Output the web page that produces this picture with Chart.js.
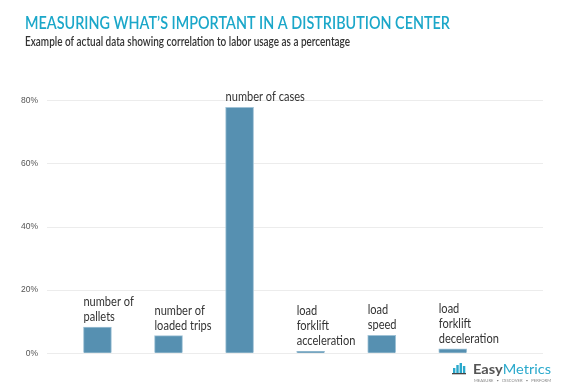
<!DOCTYPE html>
<html><head><meta charset="utf-8">
<script src="https://cdn.jsdelivr.net/npm/chart.js@4.4.1/dist/chart.umd.min.js"></script>
<style>html,body{margin:0;padding:0;background:#fff}#wrap{width:562px;height:389px}</style>
</head><body><div id="wrap"><canvas id="c" width="562" height="389"></canvas></div>
<script>
const categories = [
  ["number of", "pallets"],
  ["number of", "loaded trips"],
  ["number of cases"],
  ["load", "forklift", "acceleration"],
  ["load", "speed"],
  ["load", "forklift", "deceleration"]
];
const positions = [1, 2, 3, 4, 5, 6];
const values = [8.3, 5.6, 77.9, 0.6, 5.7, 1.4];
const yTicks = [0, 20, 40, 60, 80];
const titleText = "MEASURING WHAT\u2019S IMPORTANT IN A DISTRIBUTION CENTER";
const subtitleText = "Example of actual data showing correlation to labor usage as a percentage";

const FONT = "Lato, 'Open Sans', sans-serif";

function fitText(ctx, text, x, y, targetW) {
  const w = ctx.measureText(text).width;
  const s = targetW / w;
  ctx.save();
  ctx.translate(x, y);
  ctx.scale(s, 1);
  ctx.fillText(text, 0, 0);
  ctx.restore();
}
function scaledText(ctx, text, x, y, s) {
  ctx.save();
  ctx.translate(x, y);
  ctx.scale(s, 1);
  ctx.fillText(text, 0, 0);
  ctx.restore();
}

const decor = {
  id: 'decor',
  afterDatasetsDraw(chart) {
    const ctx = chart.ctx;
    const meta = chart.getDatasetMeta(0);
    ctx.save();
    ctx.fillStyle = '#333';
    ctx.font = "13px " + FONT;
    ctx.textAlign = 'left';
    ctx.textBaseline = 'alphabetic';
    meta.data.forEach((bar, i) => {
      const lines = categories[i];
      const left = bar.x - bar.width / 2;
      const base = bar.y - 6;
      for (let k = 0; k < lines.length; k++) {
        scaledText(ctx, lines[k], left, base - (lines.length - 1 - k) * 15, 0.85);
      }
    });
    ctx.restore();
  },
  afterDraw(chart) {
    const ctx = chart.ctx;
    ctx.save();
    ctx.textAlign = 'left';
    ctx.textBaseline = 'alphabetic';
    ctx.fillStyle = '#1ba7c9';
    ctx.font = "600 17.5px " + FONT;
    fitText(ctx, titleText, 25, 29, 425);
    ctx.fillStyle = '#333';
    ctx.font = "600 12.5px " + FONT;
    fitText(ctx, subtitleText, 25, 46, 325);
    // logo
    ctx.fillStyle = '#2aa9cc';
    const bx = 453, by = 373;
    [[0,5],[3.3,8],[6.6,10],[9.9,7]].forEach(([dx,h]) => ctx.fillRect(bx + dx, by - h, 2.4, h));
    ctx.fillStyle = '#444';
    ctx.fillRect(bx - 1, by, 14, 1.3);
    ctx.font = "700 14px " + FONT;
    const we = ctx.measureText("Easy").width;
    ctx.font = "400 14px " + FONT;
    const wm = ctx.measureText("Metrics").width;
    const s = 78 / (we + wm);
    ctx.font = "700 14px " + FONT;
    ctx.fillStyle = '#555';
    scaledText(ctx, "Easy", 473, 373.5, s);
    ctx.font = "400 14px " + FONT;
    ctx.fillStyle = '#2aa9cc';
    scaledText(ctx, "Metrics", 473 + we * s, 373.5, s);
    ctx.font = "4px " + FONT;
    ctx.fillStyle = '#888';
    fitText(ctx, "MEASURE   \u2022   DISCOVER   \u2022   PERFORM", 474, 381.5, 77);
    ctx.restore();
  }
};

new Chart(document.getElementById('c'), {
  type: 'bar',
  data: {
    datasets: [{
      data: positions.map((x, i) => ({ x: x, y: values[i] })),
      backgroundColor: '#5690b1',
      borderColor: '#9fc2d6',
      borderWidth: 1,
      barThickness: 28
    }]
  },
  options: {
    responsive: false,
    animation: false,
    layout: { padding: { top: 100.7, right: 19, bottom: 35.7, left: 0 } },
    plugins: { legend: { display: false }, tooltip: { enabled: false } },
    scales: {
      x: { type: 'linear', display: false, offset: false, min: 0.29, max: 7.27 },
      y: {
        min: 0, max: 80,
        afterBuildTicks(scale) { scale.ticks = yTicks.map(v => ({ value: v })); },
        afterFit(scale) { scale.width = 47; },
        border: { display: false },
        grid: { color: '#ececec', drawTicks: false },
        ticks: {
          padding: 9,
          color: '#555',
          font: { size: 8.5, family: "'Liberation Sans', Arial, sans-serif" },
          callback: v => v + '%'
        }
      }
    }
  },
  plugins: [decor]
});
</script>
</body></html>
